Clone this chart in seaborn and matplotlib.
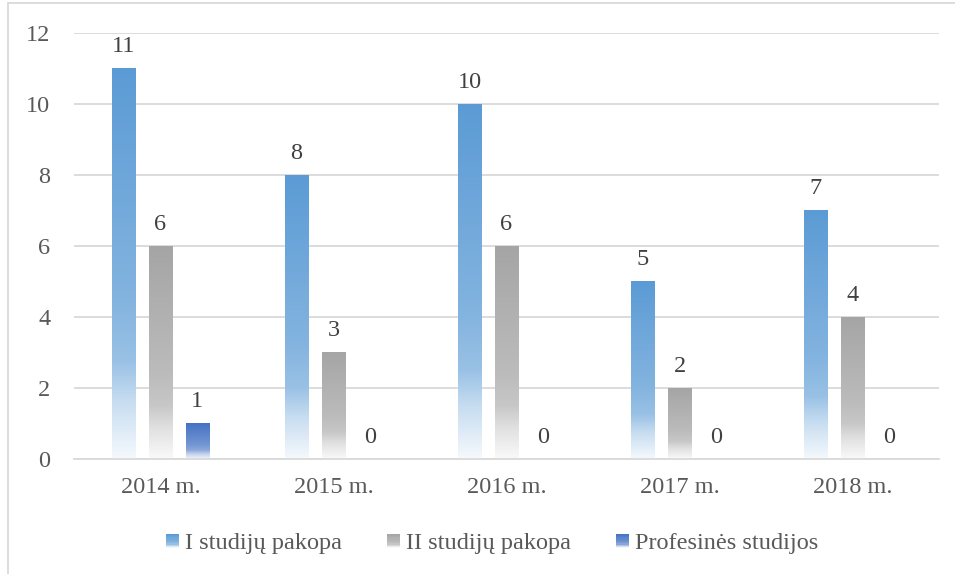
import numpy as np
import pandas as pd
import matplotlib
matplotlib.use("Agg")
import matplotlib.pyplot as plt
import matplotlib.colors as mcolors
from matplotlib.patches import Rectangle
from matplotlib.legend_handler import HandlerBase
import seaborn as sns

years = ["2014 m.", "2015 m.", "2016 m.", "2017 m.", "2018 m."]
series = ["I studijų pakopa", "II studijų pakopa", "Profesinės studijos"]
vals_I = [11, 8, 10, 5, 7]
vals_II = [6, 3, 6, 2, 4]
vals_P = [1, 0, 0, 0, 0]
colors = ["#5B9BD5", "#A5A5A5", "#4472C4"]

df = pd.DataFrame({
    "year": years * 3,
    "series": [series[0]] * 5 + [series[1]] * 5 + [series[2]] * 5,
    "value": vals_I + vals_II + vals_P,
})

sns.set_theme(style="white")
plt.rcParams["font.family"] = ["Liberation Serif", "DejaVu Serif"]
TXT = "#595959"
FS = 17.5

fig = plt.figure(figsize=(9.55, 5.74), dpi=100)
ax = fig.add_axes([74 / 955, 1 - 459 / 574, (939 - 74) / 955, (459 - 33) / 574])

sns.barplot(data=df, x="year", y="value", hue="series", hue_order=series,
            palette=colors, width=0.64, gap=0.375, ax=ax, legend=False,
            errorbar=None, saturation=1)

ax.set_ylim(0, 12)
ax.set_xlim(-0.5, 4.5)
ax.set_yticks(range(0, 13, 2))
ax.yaxis.grid(True, color="#D9D9D9", linewidth=1.3)
ax.set_axisbelow(True)
for s in ["top", "right", "left"]:
    ax.spines[s].set_visible(False)
ax.spines["bottom"].set_color("#D9D9D9")
ax.spines["bottom"].set_linewidth(1.3)
ax.set_xlabel("")
ax.set_ylabel("")
ax.tick_params(axis="both", length=0, labelsize=FS, labelcolor=TXT)
ax.tick_params(axis="y", pad=17)
ax.tick_params(axis="x", pad=13)


def grad_rgba(color, n=256):
    base = np.array(mcolors.to_rgb(color))
    t = np.linspace(0, 1, n)  # 0 top -> 1 bottom
    f = np.interp(t, [0, 0.6, 0.75, 0.85, 1.0], [0.0, 0.25, 0.38, 0.65, 0.94])
    rgb = base[None, :] * (1 - f[:, None]) + f[:, None]
    return rgb[:, None, :]


for container, col in zip(ax.containers, colors):
    img = grad_rgba(col)
    for p in container.patches:
        h = p.get_height()
        if h <= 0:
            continue
        x0 = p.get_x()
        w = p.get_width()
        p.set_facecolor("none")
        p.set_edgecolor("none")
        ax.imshow(img, extent=(x0, x0 + w, 0, h), aspect="auto",
                  origin="upper", zorder=2, interpolation="bilinear")
    ax.bar_label(container, labels=[f"{v:g}" for v in container.datavalues],
                 padding=8, fontsize=FS, color="#404040")

ax.set_xlim(-0.5, 4.5)
ax.set_ylim(0, 12)


class GradHandler(HandlerBase):
    def __init__(self, color):
        super().__init__()
        self.color = color

    def create_artists(self, legend, orig_handle, xdescent, ydescent,
                       width, height, fontsize, trans):
        img = grad_rgba(self.color, n=12)[:, 0, :]
        n = len(img)
        arts = []
        for i in range(n):
            r = Rectangle((-xdescent, -ydescent + height * (n - 1 - i) / n),
                          width, height / n, facecolor=img[i],
                          edgecolor="none", transform=trans)
            arts.append(r)
        return arts


handles = [Rectangle((0, 0), 1, 1, color=c) for c in colors]
leg = fig.legend(handles, series, loc="center", bbox_to_anchor=(492 / 955, 1 - 544 / 574),
                 ncol=3, frameon=False, fontsize=FS, labelcolor=TXT,
                 handlelength=0.53, handleheight=0.55, handletextpad=0.25,
                 columnspacing=1.85,
                 handler_map={h: GradHandler(c) for h, c in zip(handles, colors)})

fig.patches.append(Rectangle((8 / 955, -0.1), 1.2, 1.1 - 3.5 / 574,
                             transform=fig.transFigure, fill=False,
                             edgecolor="#D9D9D9", linewidth=1.3))

fig.savefig("out.png", dpi=100)
